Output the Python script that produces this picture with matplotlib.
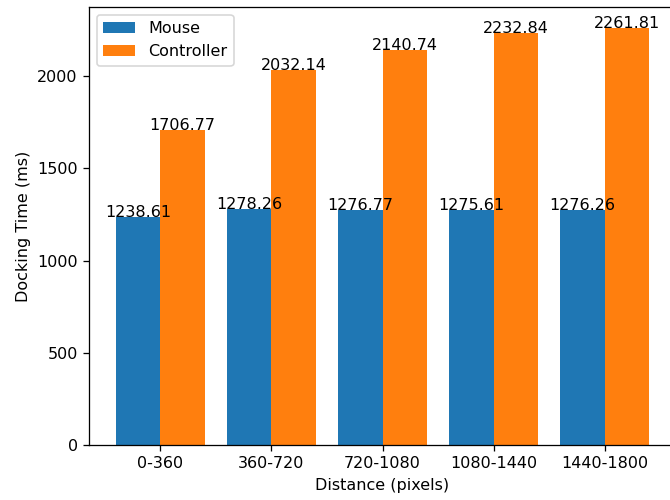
import numpy as np
import matplotlib.pyplot as plt

# data
categories = ["0-360", "360-720", "720-1080", "1080-1440", "1440-1800"]
mouse = [1238.61, 1278.26, 1276.77, 1275.61, 1276.26]
controller = [1706.77, 2032.14, 2140.74, 2232.84, 2261.81]

x = np.arange(len(categories))
w = 0.4

# reference looks rendered at ~115 dpi, so text is a bit larger than default
dpi = 115
fig = plt.figure(figsize=(670 / dpi, 500 / dpi), dpi=dpi)
# axes placed to match the (cropped) reference
ax = fig.add_axes([89 / 670, 55 / 500, 587 / 670, 438 / 500])
b1 = ax.bar(x - w / 2, mouse, w, label="Mouse")
b2 = ax.bar(x + w / 2, controller, w, label="Controller")

# value labels on top of bars (baseline on bar top)
for bars in (b1, b2):
    for r in bars:
        h = r.get_height()
        ax.text(r.get_x() + r.get_width() / 2, h, f"{h:.2f}",
                ha="center", fontsize=10)

ax.set_xticks(x)
ax.set_xticklabels(categories)
ax.set_xlabel("Distance (pixels)")
ax.set_ylabel("Docking Time (ms)")
ax.legend(loc="upper left")

plt.savefig("out.png", dpi=dpi)
